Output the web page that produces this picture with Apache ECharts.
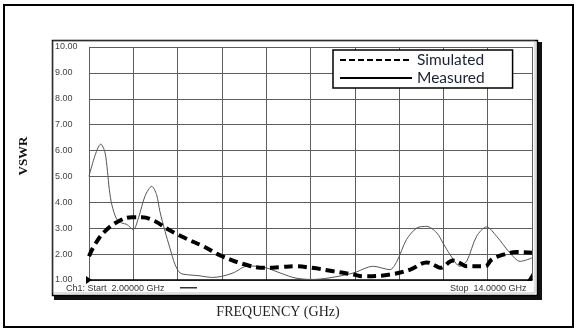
<!DOCTYPE html>
<html>
<head>
<meta charset="utf-8">
<script src="https://cdn.jsdelivr.net/npm/echarts@6/dist/echarts.min.js"></script>
<style>
  html, body { margin: 0; padding: 0; background: #fff; }
  #vswrChart { width: 576px; height: 331px; }
</style>
</head>
<body>
<div id="vswrChart"></div>
<script>
// values (GHz, VSWR)
let measuredFreq = [2.00, 2.32, 2.43, 2.50, 2.55, 2.62, 2.75, 2.89, 3.02, 3.20, 3.34, 3.52, 3.70, 3.83, 3.92, 4.06, 4.19, 4.33, 4.47, 4.69,
  4.95, 5.19, 5.35, 5.59, 5.90, 6.30, 6.55, 6.80, 7.22, 7.58, 8.03, 8.50, 9.16, 9.70, 10.15, 10.34, 10.60, 10.88, 11.15, 11.42,
  11.60, 11.78, 12.05, 12.23, 12.50, 12.77, 13.04, 13.40, 13.68, 14.00];
let measuredVswr = [5.00, 6.25, 5.95, 5.20, 4.50, 3.90, 3.35, 3.20, 3.15, 2.95, 3.40, 4.25, 4.62, 4.30, 3.65, 2.88, 2.24, 1.60, 1.27, 1.20,
  1.17, 1.12, 1.10, 1.14, 1.27, 1.54, 1.53, 1.47, 1.25, 1.08, 1.02, 1.08, 1.27, 1.53, 1.40, 1.72, 2.56, 3.01, 3.07, 2.82,
  2.40, 1.98, 1.53, 1.72, 2.69, 3.05, 2.69, 2.05, 1.72, 1.85];

let simulatedFreq = [2.00, 2.16, 2.43, 2.80, 3.16, 3.43, 3.79, 4.15, 4.60, 5.10, 5.60, 6.32, 6.77, 7.20, 7.58, 8.03, 8.62, 9.16, 9.43,
  10.15, 10.70, 11.15, 11.42, 11.51, 11.87, 12.05, 12.23, 12.73, 12.91, 13.23, 13.59, 14.00];
let simulatedVswr = [1.92, 2.37, 2.88, 3.27, 3.42, 3.42, 3.27, 2.95, 2.62, 2.30, 1.92, 1.56, 1.47, 1.50, 1.53, 1.47, 1.34, 1.21, 1.14,
  1.21, 1.40, 1.68, 1.53, 1.47, 1.75, 1.65, 1.53, 1.53, 1.79, 1.98, 2.08, 2.05];

let seriesNames = ['Simulated', 'Measured'];
let freqRange = [2, 14];
let vswrRange = [1, 10];

function pairs(xs, ys) {
  return xs.map((x, i) => [x, ys[i]]);
}

let chart = echarts.init(document.getElementById('vswrChart'), null, { renderer: 'canvas' });

let gridColor = '#5e5e5e';
let labelFont = 'Liberation Sans, Arial, sans-serif';
let serifFont = 'Liberation Serif, Times New Roman, serif';

chart.setOption({
  backgroundColor: '#fff',
  animation: false,
  grid: { left: 89, top: 47, width: 443, height: 233 },
  legend: {
    orient: 'vertical',
    left: 333,
    top: 50,
    itemWidth: 72,
    itemHeight: 16,
    itemGap: 2,
    padding: [2, 28, 2, 6],
    backgroundColor: '#fff',
    borderColor: '#000',
    borderWidth: 1.5,
    borderRadius: 0,
    textStyle: { fontFamily: 'Lato, Open Sans, sans-serif', fontSize: 15.5, color: '#1c2233' },
    data: [
      { name: seriesNames[0], itemStyle: { opacity: 0 }, lineStyle: { width: 2, type: [6, 3], color: '#000' } },
      { name: seriesNames[1], itemStyle: { opacity: 0 }, lineStyle: { width: 2, color: '#000' } }
    ]
  },
  xAxis: [{
    // ten equal divisions, only drawn as the screen grid
    type: 'value', min: 0, max: 10, interval: 1,
    axisLine: { show: true, onZero: false, lineStyle: { color: '#000', width: 1.5 } },
    axisTick: { show: false },
    axisLabel: { show: false },
    splitLine: { show: true, lineStyle: { color: gridColor, width: 1 } }
  }, {
    type: 'value', min: freqRange[0], max: freqRange[1], show: false
  }],
  yAxis: {
    type: 'value', min: vswrRange[0], max: vswrRange[1], interval: 1,
    axisLine: { show: false },
    axisTick: { show: false },
    axisLabel: {
      align: 'left', margin: 34,
      fontFamily: labelFont, fontSize: 9, color: '#444',
      formatter: v => v.toFixed(2)
    },
    splitLine: { show: true, lineStyle: { color: gridColor, width: 1 } }
  },
  series: [{
    name: seriesNames[0],
    type: 'line',
    xAxisIndex: 1,
    symbol: 'none',
    smooth: 0.4,
    lineStyle: { color: '#000', width: 4, type: [9, 5] },
    itemStyle: { color: '#000' },
    z: 3,
    data: pairs(simulatedFreq, simulatedVswr)
  }, {
    name: seriesNames[1],
    type: 'line',
    xAxisIndex: 1,
    symbol: 'none',
    smooth: 0.3,
    lineStyle: { color: '#555', width: 1 },
    itemStyle: { color: '#000' },
    z: 2,
    data: pairs(measuredFreq, measuredVswr)
  }],
  graphic: [
    // outer page border
    { type: 'rect', shape: { x: 4, y: 5, width: 569, height: 322 }, style: { fill: null, stroke: '#000', lineWidth: 2 }, z: -10, silent: true },
    // analyser screenshot frame + drop shadow
    { type: 'rect', shape: { x: 538, y: 42, width: 4, height: 258 }, style: { fill: '#111' }, z: -9, silent: true },
    { type: 'rect', shape: { x: 54, y: 296, width: 488, height: 4 }, style: { fill: '#111' }, z: -9, silent: true },
    { type: 'rect', shape: { x: 52.5, y: 40.5, width: 485, height: 255 }, style: { fill: '#fff', stroke: '#000', lineWidth: 1.5 }, z: -8, silent: true },
    { type: 'rect', shape: { x: 53, y: 41, width: 482, height: 252 }, style: { fill: null, stroke: '#999', lineWidth: 0.6 }, z: -7, silent: true },
    // start / stop markers
    { type: 'polygon', shape: { points: [[86, 276], [86, 284], [92, 280]] }, style: { fill: '#000' }, z: 10, silent: true },
    { type: 'polygon', shape: { points: [[532, 273], [532, 281], [527, 281]] }, style: { fill: '#000' }, z: 10, silent: true },
    { type: 'text', left: 66, top: 284, style: { text: 'Ch1: Start  2.00000 GHz', font: '9px ' + labelFont, fill: '#333' }, silent: true },
    { type: 'rect', shape: { x: 180, y: 287, width: 17, height: 1.5 }, style: { fill: '#333' }, silent: true },
    { type: 'text', left: 450, top: 284, style: { text: 'Stop  14.0000 GHz', font: '9px ' + labelFont, fill: '#333' }, silent: true },
    // axis titles, placed where the scanned figure has them
    { type: 'text', x: 24, y: 156, rotation: Math.PI / 2,
      style: { text: 'VSWR', font: 'bold 13px ' + serifFont, fill: '#111', align: 'center', verticalAlign: 'middle' }, silent: true },
    { type: 'text', x: 278, y: 312,
      style: { text: 'FREQUENCY (GHz)', font: '14px ' + serifFont, fill: '#222', align: 'center', verticalAlign: 'middle' }, silent: true }
  ]
});

window.addEventListener('resize', function () {
  chart.resize();
});
</script>
</body>
</html>
